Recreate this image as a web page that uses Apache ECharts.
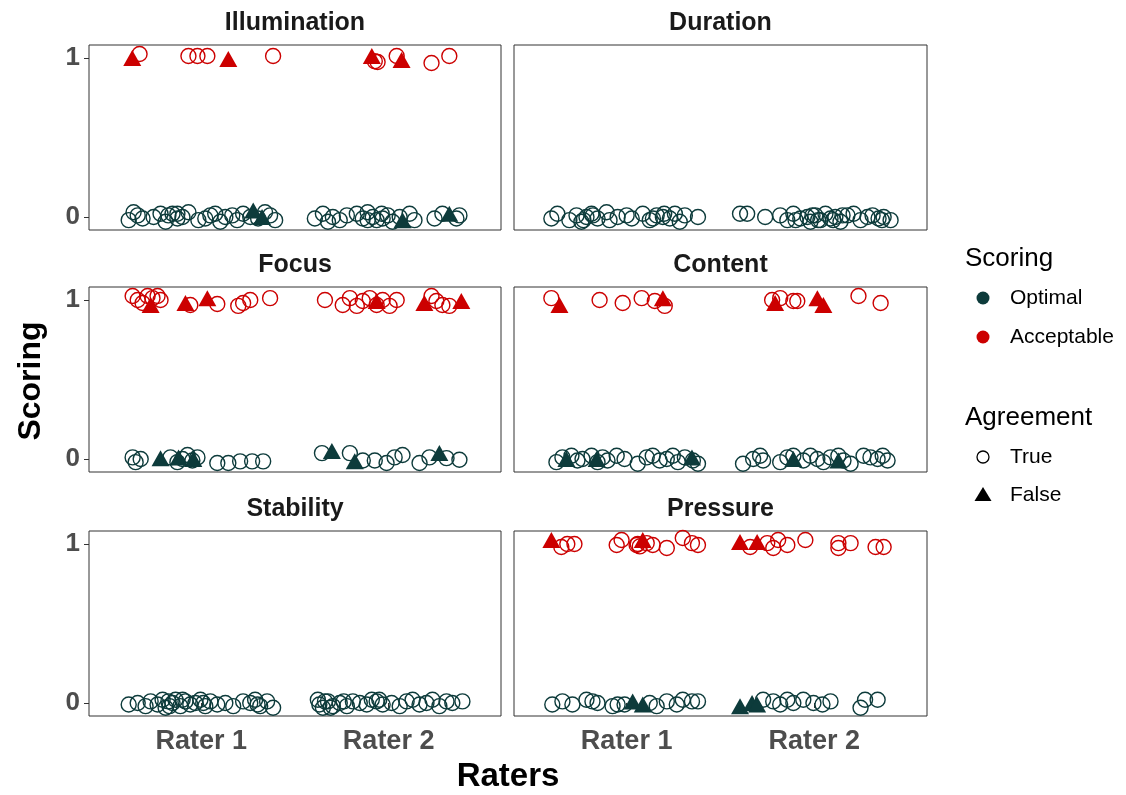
<!DOCTYPE html>
<html>
<head>
<meta charset="utf-8">
<script src="https://cdn.jsdelivr.net/npm/echarts@6.0.0/dist/echarts.min.js"></script>
<style>
  html, body { margin: 0; padding: 0; background: #fff; }
  #chart { width: 1126px; height: 795px; }
</style>
</head>
<body>
<div id="chart"></div>
<script>
// facet titles and axis labels
const panelTitles = ['Illumination', 'Duration', 'Focus', 'Content', 'Stability', 'Pressure'];
const raterLabels = ['Rater 1', 'Rater 2'];
const scoreTicks = [0, 1];

// points are [rater position (jittered), score (jittered)]
const illumOptTrue = [[0.612,-0.02],[0.638,0.03],[0.660,0.01],[0.686,-0.01],[0.745,0.00],[0.782,0.02],[0.809,-0.03],[0.824,0.01],[0.846,0.02],[0.872,-0.01],[0.872,0.02],[0.899,0.00],[0.931,0.03],[0.984,-0.02],[1.021,-0.01],[1.048,0.01],[1.074,0.02],[1.101,-0.03],[1.128,0.00],[1.165,0.01],[1.191,-0.02],[1.223,0.02],[1.261,0.00],[1.303,-0.01],[1.340,0.03],[1.367,0.01],[1.394,-0.02],
  [1.606,-0.01],[1.649,0.02],[1.676,-0.03],[1.702,0.00],[1.739,-0.02],[1.777,0.01],[1.830,0.02],[1.862,-0.01],[1.888,0.03],[1.888,-0.02],[1.915,0.00],[1.936,-0.02],[1.963,0.02],[1.968,-0.01],[1.995,0.01],[2.021,-0.03],[2.059,0.00],[2.112,0.02],[2.138,-0.02],[2.245,-0.01],[2.287,0.02],[2.362,-0.01],[2.378,0.01]];
const illumOptFalse = [[1.277,0.04],[1.324,0.00],[2.074,-0.02],[2.324,0.02]];
const illumAccTrue = [[0.670,1.025],[0.931,1.013],[0.979,1.013],[1.032,1.013],[1.383,1.013],[1.926,0.980],[1.941,0.975],[2.043,1.013],[2.229,0.969],[2.324,1.013]];
const illumAccFalse = [[0.631,1.0],[1.144,0.994],[1.910,1.013],[2.069,0.987]];

const durOptTrue = [[0.599,-0.01],[0.631,0.02],[0.695,-0.02],[0.733,0.01],[0.759,-0.03],[0.770,-0.02],[0.786,0.00],[0.813,0.02],[0.820,0.01],[0.845,-0.01],[0.893,0.03],[0.909,-0.02],[0.952,0.00],[1.000,0.01],[1.027,-0.01],[1.086,0.02],[1.123,-0.02],[1.140,-0.01],[1.160,0.01],[1.193,0.00],[1.200,0.02],[1.230,-0.01],[1.257,0.02],[1.283,-0.03],[1.310,0.01],[1.380,0.00],
  [1.604,0.02],[1.642,0.02],[1.738,0.00],[1.818,0.01],[1.856,-0.02],[1.888,0.02],[1.900,-0.02],[1.925,-0.01],[1.963,0.00],[1.979,-0.03],[1.990,0.01],[2.005,0.01],[2.020,-0.02],[2.032,-0.02],[2.059,0.02],[2.086,-0.01],[2.100,-0.02],[2.112,0.00],[2.139,-0.03],[2.150,0.01],[2.176,0.01],[2.209,0.02],[2.246,-0.02],[2.283,0.00],[2.310,0.01],[2.342,-0.01],[2.360,-0.02],[2.369,0.00],[2.406,-0.02]];
const durOptFalse = [];
const durAccTrue = [];
const durAccFalse = [];

const focusOptTrue = [[0.633,0.01],[0.649,-0.02],[0.676,0.00],[0.835,0.01],[0.872,-0.02],[0.899,0.00],[0.926,0.025],[0.952,-0.01],[0.979,0.01],[1.085,-0.025],[1.144,-0.025],[1.207,-0.015],[1.271,-0.015],[1.330,-0.015],
  [1.644,0.037],[1.793,0.037],[1.862,-0.01],[1.926,-0.01],[1.989,-0.025],[2.032,0.01],[2.074,0.025],[2.165,-0.025],[2.218,0.01],[2.309,0.005],[2.378,-0.005]];
const focusOptFalse = [[0.782,0.005],[0.878,0.01],[0.957,0.0],[1.697,0.05],[1.819,-0.015],[2.271,0.037]];
const focusAccTrue = [[0.633,1.025],[0.660,1.0],[0.686,0.981],[0.713,1.025],[0.739,1.012],[0.766,1.025],[0.782,1.0],[0.941,0.969],[1.085,0.975],[1.197,0.963],[1.223,0.981],[1.261,1.0],[1.367,1.012],
  [1.660,1.0],[1.755,0.969],[1.793,1.012],[1.830,0.963],[1.862,0.994],[1.899,1.012],[1.936,0.969],[1.968,1.0],[2.005,0.963],[2.043,1.0],[2.229,1.025],[2.255,0.994],[2.287,0.969],[2.324,0.963]];
const focusAccFalse = [[0.729,0.969],[0.915,0.981],[1.032,1.012],[1.936,0.994],[2.191,0.981],[2.388,0.994]];

const contOptTrue = [[0.626,-0.02],[0.658,0.01],[0.706,0.02],[0.738,-0.01],[0.765,0.00],[0.813,0.02],[0.845,-0.02],[0.872,0.01],[0.898,-0.01],[0.947,0.02],[0.989,0.00],[1.059,-0.03],[1.107,0.01],[1.139,0.02],[1.176,-0.01],[1.214,0.00],[1.246,0.02],[1.273,-0.02],[1.310,0.01],[1.353,-0.01],[1.380,-0.03],
  [1.620,-0.03],[1.674,0.00],[1.711,0.02],[1.727,-0.01],[1.818,-0.02],[1.856,0.01],[1.888,0.02],[1.941,-0.01],[1.979,0.02],[2.016,0.00],[2.048,-0.02],[2.086,0.01],[2.128,0.02],[2.155,-0.01],[2.193,-0.03],[2.262,0.02],[2.299,0.01],[2.337,0.00],[2.364,0.02],[2.390,-0.01]];
const contOptFalse = [[0.679,0.0],[0.840,0.0],[1.348,0.01],[1.888,0.0],[2.128,-0.01]];
const contAccTrue = [[0.599,1.012],[0.856,1.0],[0.979,0.981],[1.080,1.012],[1.150,0.994],[1.203,0.963],[1.775,1.0],[1.818,1.012],[1.888,0.994],[1.909,0.994],[2.235,1.025],[2.353,0.981]];
const contAccFalse = [[0.642,0.969],[1.193,1.012],[1.791,0.981],[2.016,1.012],[2.048,0.969]];

const stabOptTrue = [[0.612,-0.01],[0.660,0.00],[0.702,-0.02],[0.729,0.01],[0.766,-0.01],[0.793,0.02],[0.809,-0.03],[0.824,0.01],[0.830,-0.02],[0.846,0.00],[0.862,0.02],[0.888,-0.02],[0.900,0.02],[0.915,0.01],[0.941,-0.01],[0.968,0.00],[0.995,0.02],[1.010,0.00],[1.021,-0.02],[1.048,0.01],[1.085,-0.01],[1.128,0.00],[1.170,-0.02],[1.223,0.01],[1.261,0.00],[1.287,0.02],[1.300,-0.01],[1.314,-0.02],[1.351,0.01],[1.383,-0.03],
  [1.622,0.02],[1.630,-0.01],[1.649,-0.03],[1.660,0.01],[1.676,0.01],[1.690,-0.03],[1.702,-0.02],[1.739,0.00],[1.760,0.01],[1.777,-0.02],[1.809,0.01],[1.846,0.00],[1.883,-0.01],[1.910,0.02],[1.936,0.01],[1.950,0.02],[1.968,-0.01],[2.016,0.00],[2.059,-0.02],[2.096,0.01],[2.128,0.02],[2.165,-0.01],[2.202,0.00],[2.234,0.02],[2.271,-0.02],[2.309,0.01],[2.340,0.00],[2.394,0.01]];
const stabOptFalse = [];
const stabAccTrue = [];
const stabAccFalse = [];

const pressOptTrue = [[0.604,-0.01],[0.658,0.01],[0.711,-0.01],[0.786,0.02],[0.818,0.01],[0.845,0.00],[0.925,-0.02],[0.952,-0.01],[0.989,-0.01],[1.123,0.00],[1.160,-0.02],[1.214,0.01],[1.267,-0.01],[1.299,0.02],[1.348,0.01],[1.380,0.01],
  [1.727,0.02],[1.781,0.01],[1.818,-0.01],[1.856,0.02],[1.888,0.00],[1.941,0.02],[1.995,0.00],[2.043,-0.01],[2.086,0.01],[2.246,-0.03],[2.270,0.02],[2.337,0.02]];
const pressOptFalse = [[1.032,0.01],[1.086,-0.01],[1.604,-0.02],[1.668,0.0],[1.695,-0.01]];
const pressAccTrue = [[0.652,0.981],[0.684,1.0],[0.722,1.0],[0.947,0.994],[0.973,1.025],[1.053,0.994],[1.059,1.0],[1.070,0.985],[1.107,1.006],[1.139,0.994],[1.214,0.975],[1.299,1.038],[1.348,1.006],[1.380,0.994],
  [1.658,0.981],[1.749,1.006],[1.781,0.975],[1.807,1.025],[1.856,0.994],[1.952,1.025],[2.128,1.006],[2.128,0.975],[2.193,1.006],[2.326,0.981],[2.369,0.981]];
const pressAccFalse = [[0.599,1.025],[1.086,1.025],[1.604,1.013],[1.695,1.013]];

const panelData = [
  [illumOptTrue, illumOptFalse, illumAccTrue, illumAccFalse],
  [durOptTrue, durOptFalse, durAccTrue, durAccFalse],
  [focusOptTrue, focusOptFalse, focusAccTrue, focusAccFalse],
  [contOptTrue, contOptFalse, contAccTrue, contAccFalse],
  [stabOptTrue, stabOptFalse, stabAccTrue, stabAccFalse],
  [pressOptTrue, pressOptFalse, pressAccTrue, pressAccFalse]
];

const optimalColor = '#0d3b3b';
const acceptColor = '#cc0000';
const font = '"Liberation Sans", Arial, sans-serif';

const colLeft = [89, 514];
const colWidth = [412, 413];
const rowTop = [45, 287, 531];
const rowHeight = 185;

const grids = [], xAxes = [], yAxes = [], series = [], graphics = [];

panelTitles.forEach(function (title, i) {
  const col = i % 2, row = Math.floor(i / 2);
  const bottom = row === 2, left = col === 0;
  grids.push({
    left: colLeft[col], top: rowTop[row], width: colWidth[col], height: rowHeight,
    show: true, borderColor: '#333', borderWidth: 1, backgroundColor: '#fff'
  });
  xAxes.push({
    type: 'value', gridIndex: i, min: 0.4, max: 2.6,
    splitLine: { show: false },
    axisLine: { show: false },
    axisTick: { show: bottom, customValues: [1, 2], length: 5, lineStyle: { color: '#333' } },
    axisLabel: {
      show: bottom, customValues: [1, 2], margin: 12,
      formatter: function (v) { return raterLabels[Math.round(v) - 1]; },
      fontSize: 27, fontWeight: 'bold', color: '#4d4d4d', fontFamily: font
    }
  });
  yAxes.push({
    type: 'value', gridIndex: i, min: -0.082, max: 1.082,
    splitLine: { show: false },
    axisLine: { show: false },
    axisTick: { show: left, customValues: scoreTicks, length: 5, lineStyle: { color: '#333' } },
    axisLabel: {
      show: left, customValues: scoreTicks, margin: 9,
      fontSize: 26, fontWeight: 'bold', color: '#4d4d4d', fontFamily: font
    }
  });

  const sets = panelData[i];
  const styles = [
    { color: optimalColor, open: true },
    { color: optimalColor, open: false },
    { color: acceptColor, open: true },
    { color: acceptColor, open: false }
  ];
  // circles first, triangles on top
  [0, 2, 1, 3].forEach(function (k) {
    const st = styles[k];
    series.push({
      type: 'scatter', xAxisIndex: i, yAxisIndex: i,
      data: sets[k],
      symbol: st.open ? 'circle' : 'triangle',
      symbolSize: st.open ? 15 : [18, 16],
      itemStyle: st.open
        ? { color: 'rgba(0,0,0,0)', borderColor: st.color, borderWidth: 1.4, opacity: 1 }
        : { color: st.color, opacity: 1 },
      emphasis: { disabled: true },
      silent: true
    });
  });

  graphics.push({
    type: 'text',
    x: colLeft[col] + colWidth[col] / 2, y: rowTop[row] - 22,
    style: { text: title, font: 'bold 25px ' + font, fill: '#1a1a1a',
      textAlign: 'center', textVerticalAlign: 'middle', align: 'center', verticalAlign: 'middle' }
  });
});

// axis titles
graphics.push({
  type: 'text', x: 508, y: 777,
  style: { text: 'Raters', font: 'bold 33px ' + font, fill: '#000',
    textAlign: 'center', textVerticalAlign: 'middle', align: 'center', verticalAlign: 'middle' }
});
graphics.push({
  type: 'text', x: 31, y: 381, rotation: Math.PI / 2,
  style: { text: 'Scoring', font: 'bold 32px ' + font, fill: '#000',
    textAlign: 'center', textVerticalAlign: 'middle', align: 'center', verticalAlign: 'middle' }
});

// legends
function legendText(text, x, y, size) {
  return { type: 'text', x: x, y: y,
    style: { text: text, font: size + 'px ' + font, fill: '#000',
      textAlign: 'left', textVerticalAlign: 'middle', align: 'left', verticalAlign: 'middle' } };
}
graphics.push(legendText('Scoring', 965, 259, 26));
graphics.push({ type: 'circle', shape: { cx: 983, cy: 298, r: 6.5 }, style: { fill: optimalColor } });
graphics.push(legendText('Optimal', 1010, 298, 21));
graphics.push({ type: 'circle', shape: { cx: 983, cy: 337, r: 6.5 }, style: { fill: acceptColor } });
graphics.push(legendText('Acceptable', 1010, 337, 21));
graphics.push(legendText('Agreement', 965, 418, 26));
graphics.push({ type: 'circle', shape: { cx: 983, cy: 457, r: 6 }, style: { fill: 'none', stroke: '#000', lineWidth: 1.3 } });
graphics.push(legendText('True', 1010, 457, 21));
graphics.push({ type: 'polygon', shape: { points: [[974.5, 501], [991.5, 501], [983, 487]] }, style: { fill: '#000' } });
graphics.push(legendText('False', 1010, 495, 21));

const chart = echarts.init(document.getElementById('chart'), null, { renderer: 'canvas' });
chart.setOption({
  animation: false,
  backgroundColor: '#fff',
  grid: grids,
  xAxis: xAxes,
  yAxis: yAxes,
  series: series,
  graphic: graphics
});
</script>
</body>
</html>
